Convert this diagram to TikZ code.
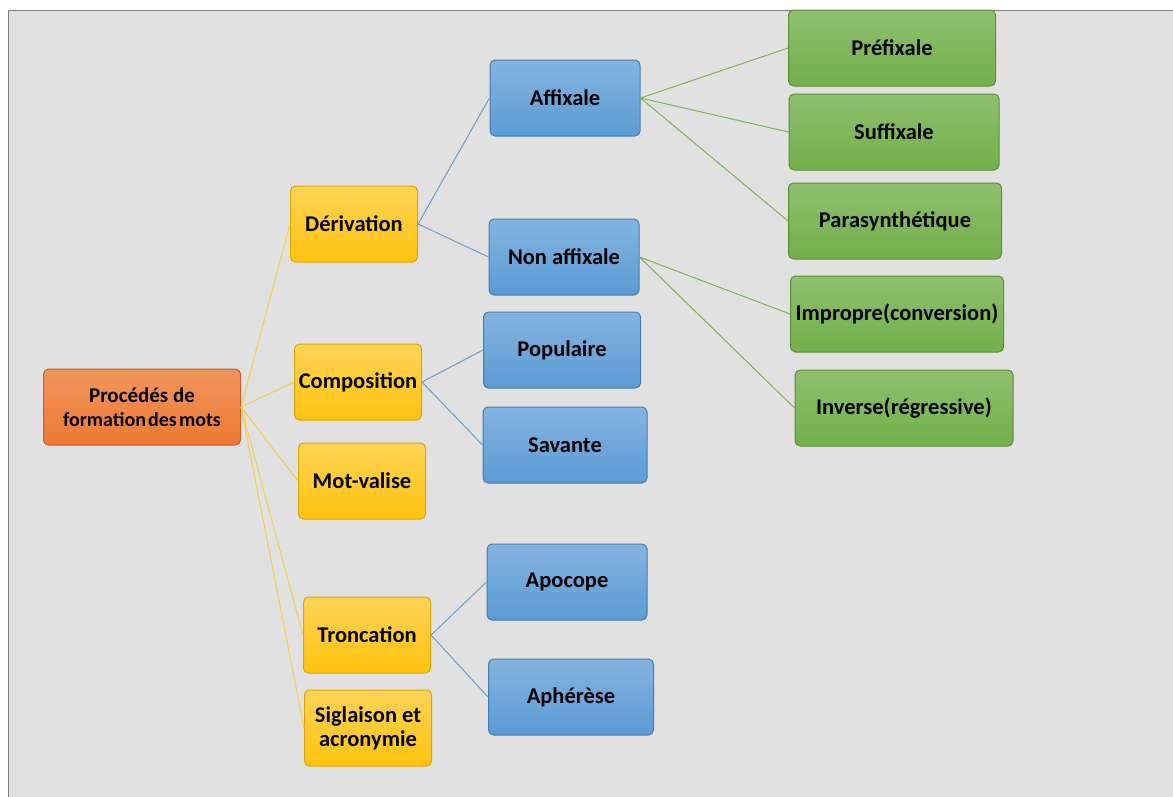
\documentclass[tikz,border=0pt]{standalone}
\usepackage{fontspec}
\setmainfont{Carlito}
\newcommand\tightwords{\spaceskip=0.1em plus 0.05em\relax}
\definecolor{bggray}{HTML}{E1E1E1}
\definecolor{framegray}{HTML}{808080}
\definecolor{orangebox}{HTML}{EE7A33}
\definecolor{yellowbox}{HTML}{FFC20E}
\definecolor{bluebox}{HTML}{5B9BD5}
\definecolor{greenbox}{HTML}{72B04A}
\definecolor{yellowline}{HTML}{F4CF4A}
\definecolor{blueline}{HTML}{6C9FCF}
\definecolor{greenline}{HTML}{7DB256}
\tikzset{
  box/.style={
    rectangle,
    rounded corners=5pt,
    minimum height=76pt,
    minimum width=#1,
    align=center,
    inner sep=1pt,
    font=\fontsize{22.5}{24}\selectfont\bfseries,
    line width=1pt,
  },
  box/.default=127pt,
  rootbox/.style={box=197pt, top color=orangebox!80!white, bottom color=orangebox, draw=orangebox!80!black,
    font=\fontsize{21}{24}\selectfont\bfseries},
  yellowbox/.style={box=127pt, top color=yellowbox!70!white, bottom color=yellowbox, draw=yellowbox!85!black},
  bluebox/.style={box=#1, top color=bluebox!75!white, bottom color=bluebox, draw=bluebox!80!black},
  bluebox/.default=150pt,
  greenbox/.style={box=#1, top color=greenbox!80!white, bottom color=greenbox, draw=greenbox!80!black},
  greenbox/.default=207pt,
  yellowlink/.style={draw=yellowline, line width=1pt},
  bluelink/.style={draw=blueline, line width=1pt},
  greenlink/.style={draw=greenline, line width=1pt},
}

\begin{document}
\begin{tikzpicture}[x=1pt,y=1pt]
\useasboundingbox (0,0) rectangle (1173,-796);
\fill[white] (0,0) rectangle (1173,-796);
\draw[framegray, fill=bggray, line width=1.2pt] (8.5,-10.5) rectangle (1180,-800);

% racine et premier niveau
\node[rootbox]   (racine) at (142,-407) {Procédés de\\{\tightwords\fontsize{20}{24}\selectfont formation des mots}};
\node[yellowbox] (deriv)  at (354,-224) {Dérivation};
\node[yellowbox] (compo)  at (358,-382) {Composition};
\node[yellowbox] (motval) at (362,-481) {Mot-valise};
\node[yellowbox] (tronc)  at (367,-635) {Troncation};
\node[yellowbox] (sigle)  at (368,-728) {Siglaison et\\acronymie};

% deuxieme niveau
\node[bluebox]        (affix)    at (565,-98)  {Affixale};
\node[bluebox]        (nonaffix) at (564,-257) {Non affixale};
\node[bluebox=157pt]  (popul)    at (562,-350) {Populaire};
\node[bluebox=164pt]  (savant)   at (565,-445) {Savante};
\node[bluebox=160pt]  (apoc)     at (567,-582) {Apocope};
\node[bluebox=165pt]  (aphe)     at (571,-697) {Aphérèse};

% troisieme niveau
\node[greenbox]        (prefix) at (892,-48)  {Préfixale};
\node[greenbox=210pt]  (suffix) at (894,-132) {Suffixale};
\node[greenbox=213pt]  (parasy) at (895,-221) {Parasynthétique};
\node[greenbox=213pt]  (impro)  at (897,-314) {Impropre(conversion)};
\node[greenbox=218pt]  (inver)  at (904,-408) {Inverse(régressive)};

\foreach \n in {deriv,compo,motval,tronc,sigle}
  \draw[yellowlink] (racine.east) -- (\n.west);
\foreach \a/\b in {deriv/affix,deriv/nonaffix,compo/popul,compo/savant,tronc/apoc,tronc/aphe}
  \draw[bluelink] (\a.east) -- (\b.west);
\foreach \n in {prefix,suffix,parasy}
  \draw[greenlink] (affix.east) -- (\n.west);
\foreach \n in {impro,inver}
  \draw[greenlink] (nonaffix.east) -- (\n.west);
\end{tikzpicture}
\end{document}
